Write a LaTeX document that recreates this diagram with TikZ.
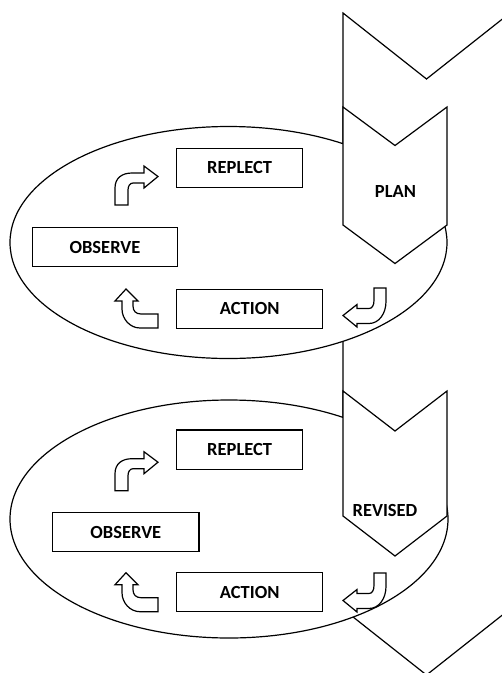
\documentclass[tikz,border=0pt]{standalone}
\usepackage{fontspec}
\setmainfont{Carlito}
\usetikzlibrary{shapes.geometric}
\begin{document}
\begin{tikzpicture}[x=1pt,y=-1pt,line join=miter,
  outline/.style={draw=black,line width=1.2pt,fill=white},
  lbl/.style={font=\bfseries\fontsize{18.5}{22}\selectfont,inner sep=0pt},
  box/.style={outline,rectangle,inner sep=0pt,font=\bfseries\fontsize{18.5}{22}\selectfont},
  cycle/.style={outline,ellipse,inner sep=0pt},
  urarrow/.pic={\draw[outline] (0,0) -- (0,-17) .. controls (0,-27) and (7,-32) .. (17,-32)
      -- (29,-32) -- (29,-39) -- (43,-28.5) -- (29,-17) -- (29,-22) -- (18,-22)
      .. controls (15,-22) and (13,-19) .. (13,-15) -- (13,0) -- cycle;},
  ularrow/.pic={\draw[outline] (0,0) -- (12,12) -- (7,12) -- (7,17)
      .. controls (7,22) and (10,25) .. (15,25) -- (32,25) -- (32,39) -- (14,39)
      .. controls (4,39) and (-4,30) .. (-4,20) -- (-4,12) -- (-11,12) -- cycle;},
  jarrow/.pic={\draw[outline] (0,0) -- (14,-11) -- (14,-7) -- (26,-7)
      .. controls (29,-7) and (31,-10) .. (31,-15) -- (31,-27.5) -- (43,-27.5) -- (43,-14)
      .. controls (43,-2) and (36,8) .. (26,8) -- (14,8) -- (14,11.5) -- cycle;}
]
\useasboundingbox (0,0) rectangle (502,673);
\clip (0,0) rectangle (502,673);
\fill[white] (0,0) rectangle (502,673);
% long background chevron
\draw[outline] (343,13) -- (426.5,79) -- (510,13) -- (510,609) -- (426.5,675) -- (343,609) -- cycle;
% cycles
\node[cycle,minimum width=437pt,minimum height=232pt] (cyc1) at (228.5,242.5) {};
\node[cycle,minimum width=438pt,minimum height=238pt] (cyc2) at (229,519) {};
% chevrons
\draw[outline] (343,107) -- (395,145.5) -- (447,107) -- (447,225) -- (395,263.5) -- (343,225) -- cycle;
\node[lbl] (plan) at (395.5,191) {PLAN};
\draw[outline] (343,391) -- (395,431) -- (447,391) -- (447,516) -- (395,556) -- (343,516) -- cycle;
\node[lbl] (revised) at (385,510) {REVISED};
% boxes, first cycle
\node[box,minimum width=126pt,minimum height=39pt] (rep1) at (239.7,167.8) {REPLECT};
\node[box,minimum width=145.4pt,minimum height=39.4pt] (obs1) at (105,247) {OBSERVE};
\node[box,minimum width=146pt,minimum height=39pt] (act1) at (249.7,308.8) {ACTION};
% boxes, second cycle
\node[box,minimum width=126pt,minimum height=39.3pt] (rep2) at (239.7,449.7) {REPLECT};
\node[box,minimum width=146.3pt,minimum height=39.4pt] (obs2) at (125.8,532) {OBSERVE};
\node[box,minimum width=146pt,minimum height=39pt] (act2) at (249.7,592.2) {ACTION};
% arrows
\pic at (115,205) {urarrow};
\pic at (126,289) {ularrow};
\pic at (343,315.5) {jarrow};
\pic at (115,490.7) {urarrow};
\pic at (126,572.7) {ularrow};
\pic at (343,600.5) {jarrow};
\end{tikzpicture}
\end{document}
